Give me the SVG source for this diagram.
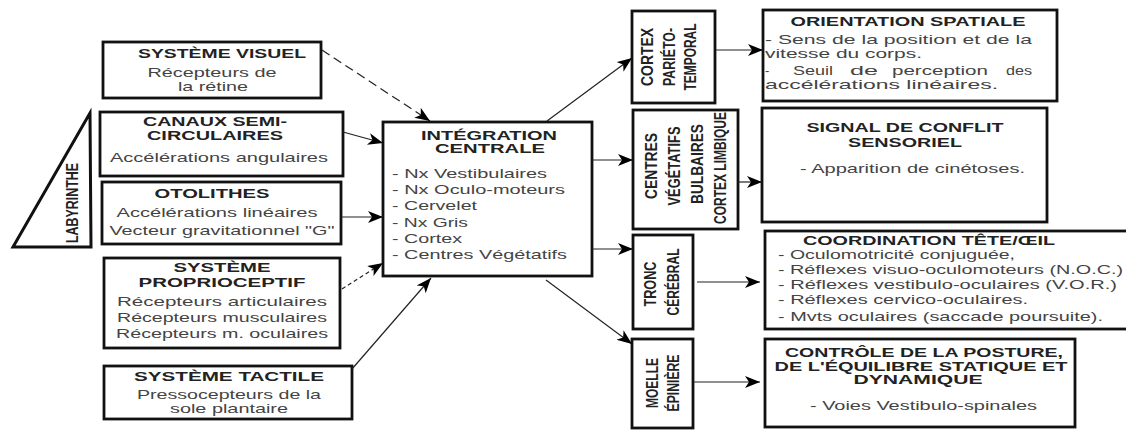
<svg xmlns="http://www.w3.org/2000/svg" width="1126" height="430" viewBox="0 0 1126 430">
<defs>
<marker id="ah" markerUnits="userSpaceOnUse" markerWidth="16" markerHeight="14" refX="15" refY="6" orient="auto">
<path d="M0,0 L15,6 L0,12 L4,6 z" fill="#000"/>
</marker>
<style>
.box{fill:#fff;stroke:#111;stroke-width:2.8}
.t{font-family:"Liberation Sans",Arial,sans-serif;font-weight:bold;font-size:13px;fill:#222;text-anchor:middle}
.tl{font-family:"Liberation Sans",Arial,sans-serif;font-weight:bold;font-size:13.5px;fill:#222;text-anchor:middle}
.b{font-family:"Liberation Sans",Arial,sans-serif;font-size:13px;fill:#444}
.bl{font-family:"Liberation Sans",Arial,sans-serif;font-size:13px;fill:#444;text-anchor:middle}
.r{font-family:"Liberation Sans",Arial,sans-serif;font-weight:bold;font-size:16px;fill:#222;text-anchor:middle}
.c{fill:none;stroke:#222;stroke-width:1.2}
.d1{stroke-dasharray:9 5}
.d2{stroke-dasharray:4 3}
</style>
</defs>

<g id="labyrinthe">
<polygon points="90,113 13,247 91,247" fill="#fff" stroke="#111" stroke-width="3"/>
<text class="r" font-size="21" transform="translate(78,203) rotate(-90)" textLength="80" lengthAdjust="spacingAndGlyphs">LABYRINTHE</text>
</g>

<g id="systeme-visuel">
<rect class="box" x="103" y="42" width="218" height="56"/>
<text class="tl" x="222" y="58" textLength="168" lengthAdjust="spacingAndGlyphs">SYSTÈME VISUEL</text>
<text class="bl" x="212" y="77" textLength="129" lengthAdjust="spacingAndGlyphs">Récepteurs de</text>
<text class="bl" x="213" y="91" textLength="70" lengthAdjust="spacingAndGlyphs">la rétine</text>
</g>

<g id="canaux">
<rect class="box" x="100" y="112" width="243" height="64"/>
<text class="tl" x="215" y="126" textLength="144" lengthAdjust="spacingAndGlyphs">CANAUX SEMI-</text>
<text class="tl" x="215" y="140" textLength="136" lengthAdjust="spacingAndGlyphs">CIRCULAIRES</text>
<text class="bl" x="219" y="162" textLength="218" lengthAdjust="spacingAndGlyphs">Accélérations angulaires</text>
</g>

<g id="otolithes">
<rect class="box" x="102" y="182" width="239" height="62"/>
<text class="tl" x="212" y="198" textLength="115" lengthAdjust="spacingAndGlyphs">OTOLITHES</text>
<text class="bl" x="217" y="217" textLength="201" lengthAdjust="spacingAndGlyphs">Accélérations linéaires</text>
<text class="bl" x="222" y="235" textLength="225" lengthAdjust="spacingAndGlyphs">Vecteur gravitationnel "G"</text>
</g>

<g id="proprioceptif">
<rect class="box" x="104" y="258" width="236" height="90"/>
<text class="tl" x="222" y="272" textLength="97" lengthAdjust="spacingAndGlyphs">SYSTÈME</text>
<text class="tl" x="222" y="287" textLength="167" lengthAdjust="spacingAndGlyphs">PROPRIOCEPTIF</text>
<text class="bl" x="222" y="306" textLength="210" lengthAdjust="spacingAndGlyphs">Récepteurs articulaires</text>
<text class="bl" x="222" y="322" textLength="210" lengthAdjust="spacingAndGlyphs">Récepteurs musculaires</text>
<text class="bl" x="222" y="338" textLength="212" lengthAdjust="spacingAndGlyphs">Récepteurs m. oculaires</text>
</g>

<g id="tactile">
<rect class="box" x="104" y="366" width="248" height="53"/>
<text class="tl" x="229" y="381" textLength="190" lengthAdjust="spacingAndGlyphs">SYSTÈME TACTILE</text>
<text class="bl" x="229" y="399" textLength="184" lengthAdjust="spacingAndGlyphs">Pressocepteurs de la</text>
<text class="bl" x="229" y="413" textLength="118" lengthAdjust="spacingAndGlyphs">sole plantaire</text>
</g>

<g id="integration">
<rect class="box" x="383" y="122" width="209" height="154"/>
<text class="t" x="489" y="140" textLength="136" lengthAdjust="spacingAndGlyphs">INTÉGRATION</text>
<text class="t" x="490" y="153" textLength="110" lengthAdjust="spacingAndGlyphs">CENTRALE</text>
<text class="b" x="392" y="178" textLength="155" lengthAdjust="spacingAndGlyphs">- Nx Vestibulaires</text>
<text class="b" x="392" y="194" textLength="173" lengthAdjust="spacingAndGlyphs">- Nx Oculo-moteurs</text>
<text class="b" x="392" y="210" textLength="85" lengthAdjust="spacingAndGlyphs">- Cervelet</text>
<text class="b" x="392" y="227" textLength="76" lengthAdjust="spacingAndGlyphs">- Nx Gris</text>
<text class="b" x="392" y="243" textLength="70" lengthAdjust="spacingAndGlyphs">- Cortex</text>
<text class="b" x="392" y="259" textLength="175" lengthAdjust="spacingAndGlyphs">- Centres Végétatifs</text>
</g>

<g id="cortex-parieto">
<rect class="box" x="632" y="11" width="83" height="92"/>
<text class="r" transform="translate(653,57) rotate(-90)" textLength="58" lengthAdjust="spacingAndGlyphs">CORTEX</text>
<text class="r" transform="translate(675,57) rotate(-90)" textLength="58" lengthAdjust="spacingAndGlyphs">PARIÉTO-</text>
<text class="r" transform="translate(696,57) rotate(-90)" textLength="67" lengthAdjust="spacingAndGlyphs">TEMPORAL</text>
</g>

<g id="centres-vegetatifs">
<rect class="box" x="633" y="110" width="105" height="119"/>
<text class="r" font-size="17" transform="translate(657,166) rotate(-90)" textLength="66" lengthAdjust="spacingAndGlyphs">CENTRES</text>
<text class="r" font-size="17" transform="translate(680,166) rotate(-90)" textLength="79" lengthAdjust="spacingAndGlyphs">VÉGÉTATIFS</text>
<text class="r" font-size="17" transform="translate(703,164) rotate(-90)" textLength="80" lengthAdjust="spacingAndGlyphs">BULBAIRES</text>
<text class="r" font-size="17" transform="translate(726,168) rotate(-90)" textLength="112" lengthAdjust="spacingAndGlyphs">CORTEX LIMBIQUE</text>
</g>

<g id="tronc">
<rect class="box" x="633" y="235" width="60" height="94"/>
<text class="r" font-size="17" transform="translate(656,284) rotate(-90)" textLength="45" lengthAdjust="spacingAndGlyphs">TRONC</text>
<text class="r" font-size="17" transform="translate(679,282) rotate(-90)" textLength="67" lengthAdjust="spacingAndGlyphs">CÉRÉBRAL</text>
</g>

<g id="moelle">
<rect class="box" x="632" y="339" width="61" height="89"/>
<text class="r" transform="translate(658,383) rotate(-90)" textLength="50" lengthAdjust="spacingAndGlyphs">MOELLE</text>
<text class="r" transform="translate(679,383) rotate(-90)" textLength="57" lengthAdjust="spacingAndGlyphs">ÉPINIÈRE</text>
</g>

<g id="orientation">
<rect class="box" x="763" y="10" width="294" height="91"/>
<text class="t" x="908" y="26" textLength="235" lengthAdjust="spacingAndGlyphs">ORIENTATION SPATIALE</text>
<text class="b" x="765" y="44" textLength="267" lengthAdjust="spacingAndGlyphs">- Sens de la position et de la</text>
<text class="b" x="765" y="58" textLength="157" lengthAdjust="spacingAndGlyphs">vitesse du corps.</text>
<text class="b" y="75"><tspan x="765">-</tspan><tspan x="793" textLength="40" lengthAdjust="spacingAndGlyphs">Seuil</tspan><tspan x="850" textLength="28" lengthAdjust="spacingAndGlyphs">de</tspan><tspan x="892" textLength="96" lengthAdjust="spacingAndGlyphs">perception</tspan><tspan x="1006" textLength="26" lengthAdjust="spacingAndGlyphs">des</tspan></text>
<text class="b" x="765" y="89" textLength="233" lengthAdjust="spacingAndGlyphs">accélérations linéaires.</text>
</g>

<g id="signal">
<rect class="box" x="762" y="108" width="285" height="114"/>
<text class="t" x="905" y="132" textLength="197" lengthAdjust="spacingAndGlyphs">SIGNAL DE CONFLIT</text>
<text class="t" x="905" y="147" textLength="114" lengthAdjust="spacingAndGlyphs">SENSORIEL</text>
<text class="b" x="800" y="173" textLength="225" lengthAdjust="spacingAndGlyphs">- Apparition de cinétoses.</text>
</g>

<g id="coordination">
<rect class="box" x="765" y="231" width="370" height="98"/>
<text class="t" x="929" y="245" textLength="252" lengthAdjust="spacingAndGlyphs">COORDINATION TÊTE/ŒIL</text>
<text class="b" x="778" y="259" textLength="237" lengthAdjust="spacingAndGlyphs">- Oculomotricité conjuguée,</text>
<text class="b" x="778" y="274" textLength="345" lengthAdjust="spacingAndGlyphs">- Réflexes visuo-oculomoteurs (N.O.C.)</text>
<text class="b" x="778" y="289" textLength="339" lengthAdjust="spacingAndGlyphs">- Réflexes vestibulo-oculaires (V.O.R.)</text>
<text class="b" x="778" y="304" textLength="250" lengthAdjust="spacingAndGlyphs">- Réflexes cervico-oculaires.</text>
<text class="b" x="778" y="321" textLength="325" lengthAdjust="spacingAndGlyphs">- Mvts oculaires (saccade poursuite).</text>
</g>

<g id="controle">
<rect class="box" x="765" y="339" width="310" height="88"/>
<text class="t" x="924" y="357" textLength="278" lengthAdjust="spacingAndGlyphs">CONTRÔLE DE LA POSTURE,</text>
<text class="t" x="921" y="371" textLength="293" lengthAdjust="spacingAndGlyphs">DE L'ÉQUILIBRE STATIQUE ET</text>
<text class="t" x="918" y="384" textLength="129" lengthAdjust="spacingAndGlyphs">DYNAMIQUE</text>
<text class="b" x="810" y="410" textLength="227" lengthAdjust="spacingAndGlyphs">- Voies Vestibulo-spinales</text>
</g>

<g id="connectors">
<line class="c d1" x1="322" y1="50" x2="430" y2="121" marker-end="url(#ah)"/>
<line class="c" x1="343" y1="132" x2="383" y2="143" marker-end="url(#ah)"/>
<line class="c" x1="341" y1="217" x2="383" y2="217" marker-end="url(#ah)"/>
<line class="c d2" x1="342" y1="289" x2="383" y2="263" marker-end="url(#ah)"/>
<line class="c" x1="352" y1="369" x2="431" y2="278" marker-end="url(#ah)"/>
<line class="c" x1="547" y1="121" x2="632" y2="58" marker-end="url(#ah)"/>
<line class="c" x1="592" y1="160" x2="633" y2="160" marker-end="url(#ah)"/>
<line class="c" x1="592" y1="249" x2="633" y2="249" marker-end="url(#ah)"/>
<line class="c" x1="546" y1="280" x2="632" y2="344" marker-end="url(#ah)"/>
<line class="c" x1="716" y1="50" x2="763" y2="50" marker-end="url(#ah)"/>
<line class="c" x1="738" y1="182" x2="762" y2="182" marker-end="url(#ah)"/>
<line class="c" x1="697" y1="282" x2="760" y2="282" marker-end="url(#ah)"/>
<line class="c" x1="693" y1="382" x2="760" y2="382" marker-end="url(#ah)"/>
</g>
</svg>
